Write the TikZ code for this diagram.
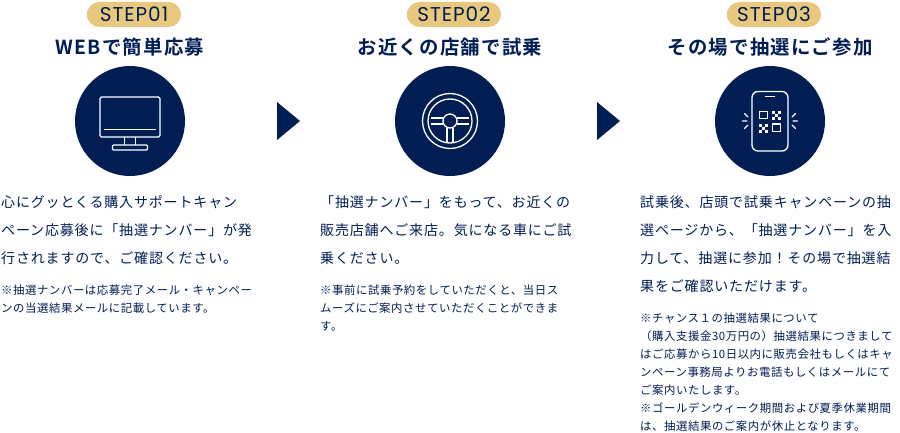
\documentclass[tikz,border=0pt]{standalone}
\usepackage{fontspec}
\setmainfont{Noto Sans CJK JP}
\newfontfamily\jpbody[LetterSpace=6]{Noto Sans CJK JP}
\newfontfamily\jpnote[LetterSpace=5]{Noto Sans CJK JP}
\newfontfamily\jptitle[LetterSpace=6.5]{Noto Sans CJK JP Bold}
\newfontfamily\stepfont[LetterSpace=5]{Poppins}
\definecolor{navy}{HTML}{001D54}
\definecolor{goldA}{HTML}{E8C87C}
\definecolor{goldB}{HTML}{F5E4B0}

\begin{document}
\begin{tikzpicture}[x=1pt, y=-1pt]

\tikzstyle{steppill}=[shape=rectangle,rounded corners=12.5pt,minimum width=94pt,minimum height=25pt,inner sep=0pt,left color=goldA,middle color=goldB,right color=goldA,text=navy,font=\stepfont\fontsize{20}{22}\selectfont]
\tikzstyle{steptitle}=[inner sep=0pt,text=navy,font=\jptitle\fontsize{19.4}{22}\selectfont]
\tikzstyle{stepcircle}=[shape=circle,fill=navy,minimum size=110pt,inner sep=0pt]
\tikzstyle{bodytext}=[anchor=north west,align=left,inner sep=0pt,text=navy,font=\jpbody\fontsize{14}{28}\selectfont]
\tikzstyle{notetext}=[anchor=north west,align=left,inner sep=0pt,text=navy,font=\jpnote\fontsize{11.4}{18}\selectfont]
\tikzstyle{iconline}=[draw=white,line width=1.3pt,line join=round]

\useasboundingbox (0,0) rectangle (900,433);

% step 1
\node[steppill] (pill1) at (134,14.5) {STEP01};
\node[steptitle] (title1) at (130,47.5) {WEBで簡単応募};
\node[stepcircle] (circle1) at (130,121) {};
\draw[iconline,rounded corners=1.5pt] (100,97) rectangle (160,137);
\draw[iconline] (103.5,129.5) -- (156,129.5);
\draw[iconline] (124.5,137) -- (124.5,145) (135.5,137) -- (135.5,145);
\draw[iconline,rounded corners=1pt] (112.5,145) rectangle (147.5,150);
\node[bodytext] (body1) at (1,195) {心にグッとくる購入サポートキャン\\ペーン応募後に「抽選ナンバー」が発\\行されますので、ご確認ください。};
\node[notetext] (note1) at (1,285) {※抽選ナンバーは応募完了メール・キャンペー\\ンの当選結果メールに記載しています。};

% arrows
\fill[navy] (277,102) -- (300,121) -- (277,140) -- cycle;
\fill[navy] (597,102) -- (620,121) -- (597,140) -- cycle;

% step 2
\node[steppill] (pill2) at (454,14.5) {STEP02};
\node[steptitle] (title2) at (450,47.5) {お近くの店舗で試乗};
\node[stepcircle] (circle2) at (450,121) {};
\draw[iconline] (circle2.center) circle (27.5pt);
\draw[iconline] (circle2.center) circle (22pt);
\draw[iconline] (circle2.center) circle (7pt);
\draw[iconline] (431,118) -- (443,118) (431,124) -- (443,124);
\draw[iconline] (457,118) -- (469,118) (457,124) -- (469,124);
\draw[iconline] (447,128) -- (447,142) (453,128) -- (453,142);
\node[bodytext] (body2) at (320,195) {「抽選ナンバー」をもって、お近くの\\販売店舗へご来店。気になる車にご試\\乗ください。};
\node[notetext] (note2) at (320,285) {※事前に試乗予約をしていただくと、当日ス\\ムーズにご案内させていただくことができま\\す。};

% step 3
\node[steppill] (pill3) at (774,14.5) {STEP03};
\node[steptitle] (title3) at (770,47.5) {その場で抽選にご参加};
\node[stepcircle] (circle3) at (770,121) {};
\draw[iconline,rounded corners=6pt] (752,91.5) rectangle (788,151);
\draw[iconline,line cap=round] (765.5,96.5) -- (774.5,96.5);
\draw[iconline] (759.5,111.5) rectangle (767.5,118.5);
\draw[iconline] (772.5,124) rectangle (780.5,131.5);
\foreach \cx/\cy in {772/111,778/111,775/114,772/117,778/117,759/124,765/124,762/127,759/130,765/130}
	\fill[white] (\cx,\cy) rectangle ++(3,3);
\draw[iconline,line cap=round] (742.5,121) -- (747,121) (744.5,113.5) -- (748,117) (744.5,128.5) -- (748,125);
\draw[iconline,line cap=round] (797.5,121) -- (793,121) (795.5,113.5) -- (792,117) (795.5,128.5) -- (792,125);
\node[bodytext] (body3) at (640,195.5) {試乗後、店頭で試乗キャンペーンの抽\\選ページから、「抽選ナンバー」を入\\力して、抽選に参加！その場で抽選結\\果をご確認いただけます。};
\node[notetext] (note3) at (640,313) {※チャンス１の抽選結果について\\（購入支援金30万円の）抽選結果につきまして\\はご応募から10日以内に販売会社もしくはキャ\\ンペーン事務局よりお電話もしくはメールにて\\ご案内いたします。\\※ゴールデンウィーク期間および夏季休業期間\\は、抽選結果のご案内が休止となります。};

\end{tikzpicture}
\end{document}
